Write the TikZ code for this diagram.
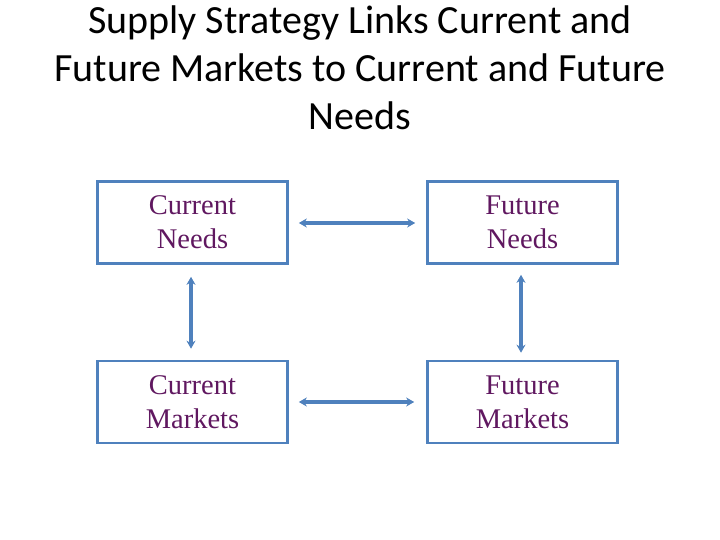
\documentclass[tikz,border=0pt]{standalone}
\usepackage{fontspec}
\setmainfont{Liberation Serif}
\newfontfamily\titlefont{Carlito}
\usetikzlibrary{arrows.meta}
\definecolor{boxblue}{RGB}{79,129,189}
\definecolor{txtpurple}{RGB}{96,24,96}
\tikzset{
  box/.style={draw=boxblue, line width=2.6pt, minimum width=190pt, minimum height=82pt, inner sep=0pt,
    align=center, text=txtpurple, font=\fontsize{28.5}{34}\selectfont},
  biarrow/.style={draw=boxblue, line width=4pt, {Stealth[length=8pt,width=9pt]}-{Stealth[length=8pt,width=9pt]}}
}
\begin{document}
\begin{tikzpicture}[x=1pt,y=-1pt]
\useasboundingbox (0,0) rectangle (720,540);
\node (title) at (360,68) [align=center, font=\titlefont\fontsize{40}{48}\selectfont]
  {Supply Strategy Links Current and\\Future Markets to Current and Future\\Needs};
\node[box] (cn) at (192.5,222.5) {Current\\Needs};
\node[box] (fn) at (522.5,222.5) {Future\\Needs};
\node[box] (cm) at (192.5,402) {Current\\Markets};
\node[box] (fm) at (522.5,402) {Future\\Markets};
\draw[biarrow] ([xshift=10pt,yshift=-0.5pt]cn.east) -- ([xshift=-11pt,yshift=-0.5pt]fn.west);
\draw[biarrow] ([xshift=10pt]cm.east) -- ([xshift=-12pt]fm.west);
\draw[biarrow] ([xshift=-1.5pt,yshift=-12pt]cn.south) -- ([xshift=-1.5pt,yshift=11pt]cm.north);
\draw[biarrow] ([xshift=-1.5pt,yshift=-10pt]fn.south) -- ([xshift=-1.5pt,yshift=7pt]fm.north);
\end{tikzpicture}
\end{document}
